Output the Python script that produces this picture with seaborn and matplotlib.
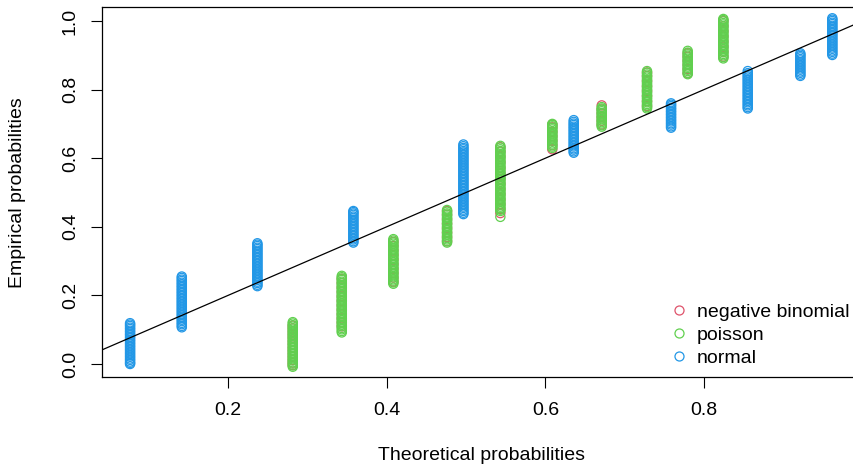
import pandas as pd
import matplotlib.pyplot as plt
import seaborn as sns
from matplotlib.lines import Line2D

# x positions (theoretical probabilities) for each distribution
normal_x = [0.0765, 0.1417, 0.2370, 0.3580, 0.4967, 0.6358, 0.7585, 0.8552, 0.9215, 0.9618]
count_x = [0.2816, 0.3434, 0.4084, 0.4761, 0.5433, 0.6088, 0.6711, 0.7282, 0.7795, 0.8244]

# empirical probabilities, one list per column
normal_y = [
    [0.000, 0.003, 0.007, 0.012, 0.016, 0.021, 0.025, 0.030, 0.034, 0.039, 0.043, 0.048, 0.052, 0.057,
     0.061, 0.066, 0.070, 0.075, 0.079, 0.084, 0.088, 0.093, 0.097, 0.102, 0.106, 0.111, 0.115, 0.119],
    [0.107, 0.111, 0.116, 0.120, 0.125, 0.129, 0.134, 0.138, 0.143, 0.147, 0.152, 0.156, 0.161, 0.165,
     0.170, 0.174, 0.179, 0.183, 0.188, 0.192, 0.197, 0.201, 0.206, 0.210, 0.215, 0.219, 0.224, 0.228,
     0.233, 0.237, 0.242, 0.246, 0.251, 0.255],
    [0.227, 0.231, 0.236, 0.240, 0.245, 0.249, 0.254, 0.258, 0.263, 0.267, 0.272, 0.276, 0.281, 0.285,
     0.290, 0.294, 0.299, 0.303, 0.308, 0.312, 0.317, 0.321, 0.326, 0.330, 0.335, 0.339, 0.344, 0.348, 0.352],
    [0.354, 0.358, 0.363, 0.367, 0.372, 0.376, 0.381, 0.385, 0.390, 0.394, 0.399, 0.403, 0.408, 0.412,
     0.417, 0.421, 0.426, 0.430, 0.435, 0.439, 0.443, 0.446],
    [0.437, 0.441, 0.446, 0.450, 0.455, 0.459, 0.464, 0.468, 0.473, 0.477, 0.482, 0.486, 0.491, 0.495,
     0.500, 0.504, 0.509, 0.513, 0.518, 0.522, 0.527, 0.531, 0.536, 0.540, 0.545, 0.549, 0.554, 0.558,
     0.563, 0.567, 0.572, 0.576, 0.581, 0.585, 0.590, 0.594, 0.599, 0.603, 0.608, 0.612, 0.617, 0.621,
     0.626, 0.630, 0.635, 0.640],
    [0.616, 0.620, 0.625, 0.629, 0.634, 0.638, 0.643, 0.647, 0.652, 0.656, 0.661, 0.665, 0.670, 0.674,
     0.679, 0.683, 0.688, 0.692, 0.697, 0.701, 0.706, 0.711],
    [0.689, 0.693, 0.698, 0.702, 0.707, 0.711, 0.716, 0.720, 0.725, 0.729, 0.734, 0.738, 0.743, 0.747,
     0.752, 0.756, 0.760],
    [0.745, 0.749, 0.754, 0.758, 0.763, 0.767, 0.772, 0.776, 0.781, 0.785, 0.790, 0.794, 0.799, 0.803,
     0.808, 0.812, 0.817, 0.821, 0.826, 0.830, 0.835, 0.839, 0.844, 0.848, 0.854],
    [0.840, 0.844, 0.849, 0.853, 0.858, 0.862, 0.867, 0.871, 0.876, 0.880, 0.885, 0.889, 0.894, 0.898,
     0.902, 0.906],
    [0.901, 0.905, 0.910, 0.914, 0.919, 0.923, 0.928, 0.932, 0.937, 0.941, 0.946, 0.950, 0.955, 0.959,
     0.964, 0.968, 0.973, 0.977, 0.982, 0.986, 0.991, 0.995, 1.000, 1.004, 1.008],
]
poisson_y = [
    [-0.008, -0.004, 0.001, 0.005, 0.010, 0.014, 0.019, 0.023, 0.028, 0.032, 0.037, 0.041, 0.046, 0.050,
     0.055, 0.059, 0.064, 0.068, 0.073, 0.077, 0.082, 0.086, 0.091, 0.095, 0.100, 0.104, 0.109, 0.113,
     0.118, 0.122],
    [0.092, 0.096, 0.101, 0.105, 0.110, 0.114, 0.119, 0.123, 0.128, 0.132, 0.137, 0.141, 0.146, 0.150,
     0.155, 0.159, 0.164, 0.168, 0.173, 0.177, 0.182, 0.186, 0.191, 0.195, 0.200, 0.204, 0.209, 0.213,
     0.218, 0.222, 0.227, 0.231, 0.236, 0.240, 0.245, 0.249, 0.253, 0.257],
    [0.234, 0.238, 0.243, 0.247, 0.252, 0.256, 0.261, 0.265, 0.270, 0.274, 0.279, 0.283, 0.288, 0.292,
     0.297, 0.301, 0.306, 0.310, 0.315, 0.319, 0.324, 0.328, 0.333, 0.337, 0.342, 0.346, 0.351, 0.355,
     0.360, 0.364],
    [0.354, 0.358, 0.363, 0.367, 0.372, 0.376, 0.381, 0.385, 0.390, 0.394, 0.399, 0.403, 0.408, 0.412,
     0.417, 0.421, 0.426, 0.430, 0.435, 0.439, 0.444, 0.449],
    [0.429, 0.446, 0.450, 0.455, 0.459, 0.464, 0.468, 0.473, 0.477, 0.482, 0.486, 0.491, 0.495, 0.500,
     0.504, 0.509, 0.513, 0.518, 0.522, 0.527, 0.531, 0.536, 0.540, 0.545, 0.549, 0.554, 0.558, 0.563,
     0.567, 0.572, 0.576, 0.581, 0.585, 0.590, 0.594, 0.599, 0.603, 0.608, 0.612, 0.617, 0.621, 0.626,
     0.631, 0.636],
    [0.630, 0.634, 0.639, 0.643, 0.648, 0.652, 0.657, 0.661, 0.666, 0.670, 0.675, 0.679, 0.684, 0.688,
     0.693, 0.697, 0.700],
    [0.692, 0.696, 0.701, 0.705, 0.710, 0.714, 0.719, 0.723, 0.728, 0.732, 0.737, 0.741, 0.745, 0.749],
    [0.745, 0.749, 0.754, 0.758, 0.763, 0.767, 0.772, 0.776, 0.781, 0.785, 0.790, 0.794, 0.799, 0.803,
     0.808, 0.812, 0.817, 0.821, 0.826, 0.830, 0.835, 0.839, 0.844, 0.849, 0.854],
    [0.845, 0.849, 0.854, 0.858, 0.863, 0.867, 0.872, 0.876, 0.881, 0.885, 0.890, 0.894, 0.899, 0.903,
     0.908, 0.913],
    [0.891, 0.895, 0.900, 0.904, 0.909, 0.913, 0.918, 0.922, 0.927, 0.931, 0.936, 0.940, 0.945, 0.949,
     0.954, 0.958, 0.963, 0.967, 0.972, 0.976, 0.981, 0.985, 0.990, 0.994, 0.999, 1.003, 1.006],
]
negbin_y = [
    [-0.003, 0.004, 0.012, 0.021, 0.030, 0.039, 0.048, 0.058, 0.067, 0.077, 0.086, 0.095, 0.104, 0.112],
    [0.110, 0.121, 0.133, 0.145, 0.158, 0.171, 0.184, 0.197, 0.210, 0.223, 0.236, 0.248],
    [0.240, 0.252, 0.265, 0.278, 0.291, 0.305, 0.318, 0.331, 0.344, 0.356],
    [0.358, 0.370, 0.383, 0.396, 0.409, 0.422, 0.435, 0.446],
    [0.440, 0.452, 0.466, 0.480, 0.495, 0.510, 0.525, 0.540, 0.556, 0.572, 0.588, 0.604, 0.619, 0.632],
    [0.626, 0.638, 0.651, 0.664, 0.677, 0.690, 0.698],
    [0.698, 0.709, 0.720, 0.731, 0.742, 0.754],
    [0.752, 0.766, 0.781, 0.796, 0.810, 0.825, 0.840, 0.850],
    [0.848, 0.860, 0.872, 0.884, 0.896, 0.906],
    [0.896, 0.910, 0.925, 0.940, 0.955, 0.970, 0.985, 1.000],
]

labels = ['negative binomial', 'poisson', 'normal']
colors = ['#DF536B', '#61D04F', '#2297E6']

rows = []
for name, xs, ys in [('negative binomial', count_x, negbin_y),
                     ('poisson', count_x, poisson_y),
                     ('normal', normal_x, normal_y)]:
    for xv, col in zip(xs, ys):
        for yv in col:
            rows.append({'theoretical': xv, 'empirical': yv, 'dist': name})
df = pd.DataFrame(rows)

sns.set_style('ticks')
plt.rcParams['font.family'] = ['Liberation Sans', 'DejaVu Sans']
plt.rcParams['font.size'] = 14
plt.rcParams['text.color'] = 'black'
plt.rcParams['axes.labelcolor'] = 'black'
plt.rcParams['xtick.color'] = 'black'
plt.rcParams['ytick.color'] = 'black'

fig = plt.figure(figsize=(8.54, 4.69), dpi=100)
ax = fig.add_axes([102 / 854, 1 - 377.3 / 469, 758.4 / 854, 370 / 469])

sns.scatterplot(data=df, x='theoretical', y='empirical', hue='dist',
                hue_order=labels, palette=colors, s=44, linewidth=0.9,
                legend=False, ax=ax)
# open circles like R's pch=1
for coll in ax.collections:
    fc = coll.get_facecolors()
    coll.set_edgecolors(fc)
    coll.set_facecolors('none')

ax.axline((0, 0), (1, 1), color='black', lw=0.9)

ax.set_xlim(0.0411, 0.9972)
ax.set_ylim(-0.0388, 1.040)
ax.set_xticks([0.2, 0.4, 0.6, 0.8])
ax.set_yticks([0.0, 0.2, 0.4, 0.6, 0.8, 1.0])
ax.set_xticklabels(['0.2', '0.4', '0.6', '0.8'])
ax.set_yticklabels(['0.0', '0.2', '0.4', '0.6', '0.8', '1.0'])
ax.tick_params(axis='both', length=8, width=0.8, color='black', labelcolor='black', labelsize=14)
ax.tick_params(axis='x', pad=9.5)
ax.tick_params(axis='y', pad=8.6)
for lab in ax.get_yticklabels():
    lab.set_rotation(90)
    lab.set_va('center')
    lab.set_ha('right')
for sp in ax.spines.values():
    sp.set_linewidth(0.9)
    sp.set_color('black')

ax.set_xlabel('Theoretical probabilities', fontsize=14, color='black')
ax.set_ylabel('Empirical probabilities', fontsize=14, color='black')
ax.xaxis.label.set_va('center')
ax.yaxis.label.set_va('center')
ax.xaxis.set_label_coords(0.5, -0.210)
ax.yaxis.set_label_coords(-0.1108, 0.5)

handles = [Line2D([], [], marker='o', linestyle='none', markerfacecolor='none',
                  markeredgecolor=c, markersize=6.5, markeredgewidth=0.9)
           for c in colors]
ax.legend(handles, labels, loc='upper left', bbox_to_anchor=(669.3 / 854, 1 - 303.5 / 469),
          bbox_transform=fig.transFigure, frameon=False, borderpad=0, borderaxespad=0,
          handlelength=1.0, handletextpad=0.4, labelspacing=0.28, fontsize=14)

plt.savefig('out.png', dpi=100)
plt.close()
